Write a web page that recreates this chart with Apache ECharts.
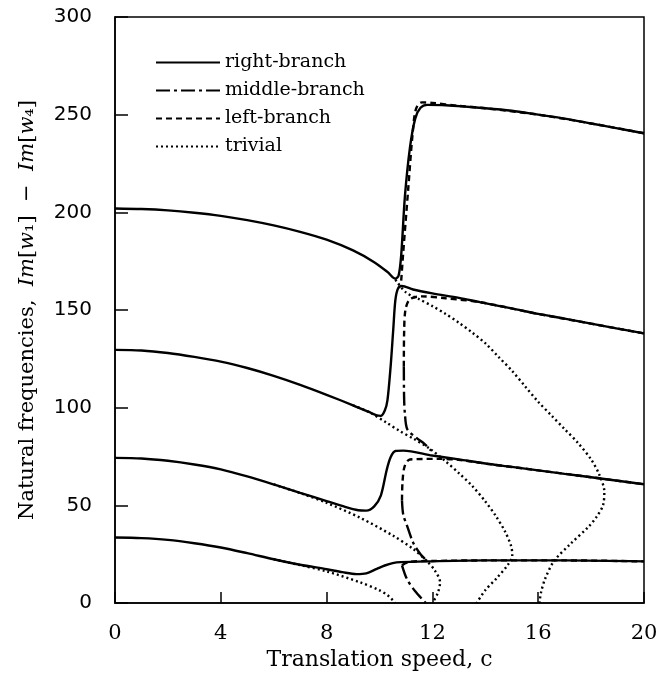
<!DOCTYPE html>
<html>
<head>
<meta charset="utf-8">
<script src="https://cdn.jsdelivr.net/npm/echarts@6/dist/echarts.min.js"></script>
<style>
  html, body { margin: 0; padding: 0; background: #fff; }
  #chart { width: 669px; height: 676px; }
</style>
</head>
<body>
<div id="chart"></div>
<script>
// axis ticks
var xTicks = [0, 4, 8, 12, 16, 20]
var yTicks = [0, 50, 100, 150, 200, 250, 300]

// right-branch (solid)
var right1 = [[0,202],[1,201.7],[2,201],[3,199.8],[4,198.2],[5,196],[6,193.3],[7,190],[8,186],[9,180.5],[9.8,174.5],[10.3,169.5],[10.6,166],[10.72,167.5],[10.82,178],[10.96,208],[11.15,233],[11.35,248],[11.55,253.5],[11.8,255],[12.5,254.8],[14,253.3],[15,252],[16,250],[17,248],[18,245.5],[19,243],[20,240.5]]
var right2 = [[0,129.6],[1,129.3],[2,128],[3,126],[4,123.6],[5,120.3],[6,116.3],[7,111.7],[8,106.6],[9,101.2],[9.6,97.8],[9.9,96],[10.05,95.8],[10.2,98.5],[10.3,103.7],[10.42,121],[10.52,140],[10.6,155],[10.7,161],[10.85,162.3],[11.27,160.5],[12,158.5],[13,156.2],[13.8,154],[15,150.8],[16,148],[17,145.6],[18,143],[19,140.5],[20,138]]
var right3 = [[0,74.3],[1,74],[2,72.8],[3,70.9],[4,68.4],[5,64.8],[6,60.7],[7,56.4],[8,52.2],[8.7,49.2],[9.2,47.5],[9.5,47.3],[9.8,49.5],[10.05,55],[10.27,68],[10.42,74.6],[10.6,77.8],[10.9,78],[12,75.5],[13,73.5],[14,71.4],[15,69.7],[16,67.9],[17,66.1],[18,64.4],[19,62.6],[20,60.8]]
var right4 = [[0,33.5],[1,33.2],[2,32.3],[3,30.6],[4,28.4],[5,25.5],[6,22.4],[7,19.6],[8,17.3],[8.6,15.8],[9.13,14.8],[9.5,15.2],[9.9,17.5],[10.2,19.2],[10.5,20.4],[10.8,20.9],[11.8,21.3],[14,21.8],[17,21.8],[20,21.3]]

// middle-branch (dash-dot)
var middle1 = [[10.92,121],[10.93,105],[10.96,97],[11.05,89],[11.4,84.5],[11.7,81.5],[11.95,78]]
var middle2 = [[10.85,52.5],[10.9,45],[11.03,40],[11.27,31],[11.55,25],[11.8,21.5]]
var middle3 = [[10.85,19.3],[11.04,12.2],[11.35,6],[11.75,0]]

// left-branch (dashed)
var left1 = [[10.82,165],[10.9,180],[11.08,211],[11.25,240],[11.38,253],[11.6,256.3],[12,256],[13,254.5],[14,253.3],[16,250],[18,245.5],[20,240.5]]
var left2 = [[10.92,121],[10.93,138],[10.98,150],[11.15,155.5],[11.6,157],[12.5,156],[13.8,154],[16,148],[18,143],[20,138]]
var left3 = [[10.85,52.5],[10.87,62],[10.95,70],[11.15,73.5],[12.2,73.8],[13,73.3],[14,71.4],[16,67.9],[18,64.4],[20,60.8]]
var left4 = [[10.85,19.3],[11.1,21],[12,21.5],[14,21.8],[17,21.8],[20,21.3]]

// trivial (dotted)
var trivial1 = [[10.6,165.5],[11,159],[11.5,155.5],[12,152],[12.5,148],[13,143.5],[13.5,138.5],[14,133],[14.5,126],[15,119],[15.5,111],[16,103],[16.5,96],[17,89],[17.5,82],[18,73.5],[18.3,66],[18.5,57],[18.45,50],[18.2,44],[17.9,39],[17.2,30],[16.6,21.5],[16.25,12],[16.1,5],[16.05,0]]
var trivial2 = [[9,101.2],[9.6,97.8],[10.27,92.3],[10.77,88],[11.3,84],[11.9,79],[12.5,72.5],[13,66.5],[13.5,60],[14,52],[14.4,44.5],[14.75,36.5],[14.98,29],[15.02,24],[14.85,19.5],[14.45,13],[14,6.5],[13.67,0]]
var trivial3 = [[6,60.7],[7,56.3],[8,51.3],[9.26,43.7],[10.52,34.4],[11.28,27.6],[11.78,21.6],[12.1,16.5],[12.29,10.6],[12.2,5],[12,0]]
var trivial4 = [[6,22.4],[7,19.4],[8,16.2],[9.26,10.6],[10,6.5],[10.3,4],[10.5,1.5],[10.6,0]]

var names = ['right-branch', 'middle-branch', 'left-branch', 'trivial']
var styles = {
  'right-branch': { type: 'solid', width: 2.4 },
  'middle-branch': { type: [14, 4, 3, 4], width: 2.4 },
  'left-branch': { type: [6, 4], width: 2.4 },
  'trivial': { type: [2, 3], width: 2.4 }
}
var groups = [
  ['trivial', [trivial1, trivial2, trivial3, trivial4]],
  ['left-branch', [left1, left2, left3, left4]],
  ['middle-branch', [middle1, middle2, middle3]],
  ['right-branch', [right1, right2, right3, right4]]
]

var series = []
groups.forEach(function (g) {
  g[1].forEach(function (d) {
    series.push({
      name: g[0],
      type: 'line',
      data: d,
      symbol: 'none',
      smooth: 0.3,
      silent: true,
      color: '#000',
      itemStyle: { color: '#000' },
      lineStyle: { color: '#000', type: styles[g[0]].type, width: styles[g[0]].width }
    })
  })
})

var serif = '"DejaVu Serif", "Liberation Serif", serif'
var chart = echarts.init(document.getElementById('chart'), null, { renderer: 'canvas' })
chart.setOption({
  animation: false,
  backgroundColor: '#fff',
  grid: { left: 115, right: 25, top: 17, bottom: 72, show: true, borderColor: '#000', borderWidth: 1.5 },
  legend: {
    data: names,
    orient: 'vertical',
    left: 150,
    top: 48,
    itemWidth: 64,
    itemHeight: 18,
    itemGap: 9,
    itemStyle: { opacity: 0 },
    textStyle: { fontFamily: serif, fontSize: 19, color: '#000', lineHeight: 18 }
  },
  xAxis: {
    type: 'value',
    min: xTicks[0],
    max: xTicks[xTicks.length - 1],
    interval: 4,
    name: 'Translation speed, c',
    nameLocation: 'middle',
    nameGap: 46,
    nameTextStyle: { fontFamily: serif, fontSize: 22, color: '#000' },
    axisLine: { lineStyle: { color: '#000', width: 1.5 } },
    axisTick: { inside: true, length: 11, lineStyle: { color: '#000', width: 1.5 } },
    axisLabel: { margin: 20, fontFamily: serif, fontSize: 21, color: '#000' },
    splitLine: { show: false }
  },
  yAxis: {
    type: 'value',
    min: yTicks[0],
    max: yTicks[yTicks.length - 1],
    interval: 50,
    name: '{n|Natural frequencies,  }{i|Im}{n|[}{i|w}{n|₁]  −  }{i|Im}{n|[}{i|w}{n|₄]}',
    nameLocation: 'middle',
    nameRotate: 90,
    nameGap: 77,
    nameTextStyle: {
      rich: {
        n: { fontFamily: serif, fontSize: 21, color: '#000' },
        i: { fontFamily: serif, fontSize: 21, fontStyle: 'italic', color: '#000' }
      }
    },
    axisLine: { lineStyle: { color: '#000', width: 1.5 } },
    axisTick: { inside: true, length: 13, lineStyle: { color: '#000', width: 1.5 } },
    axisLabel: { margin: 23, fontFamily: '"DejaVu Sans", sans-serif', fontSize: 20, color: '#000' },
    splitLine: { show: false }
  },
  series: series
})
</script>
</body>
</html>
